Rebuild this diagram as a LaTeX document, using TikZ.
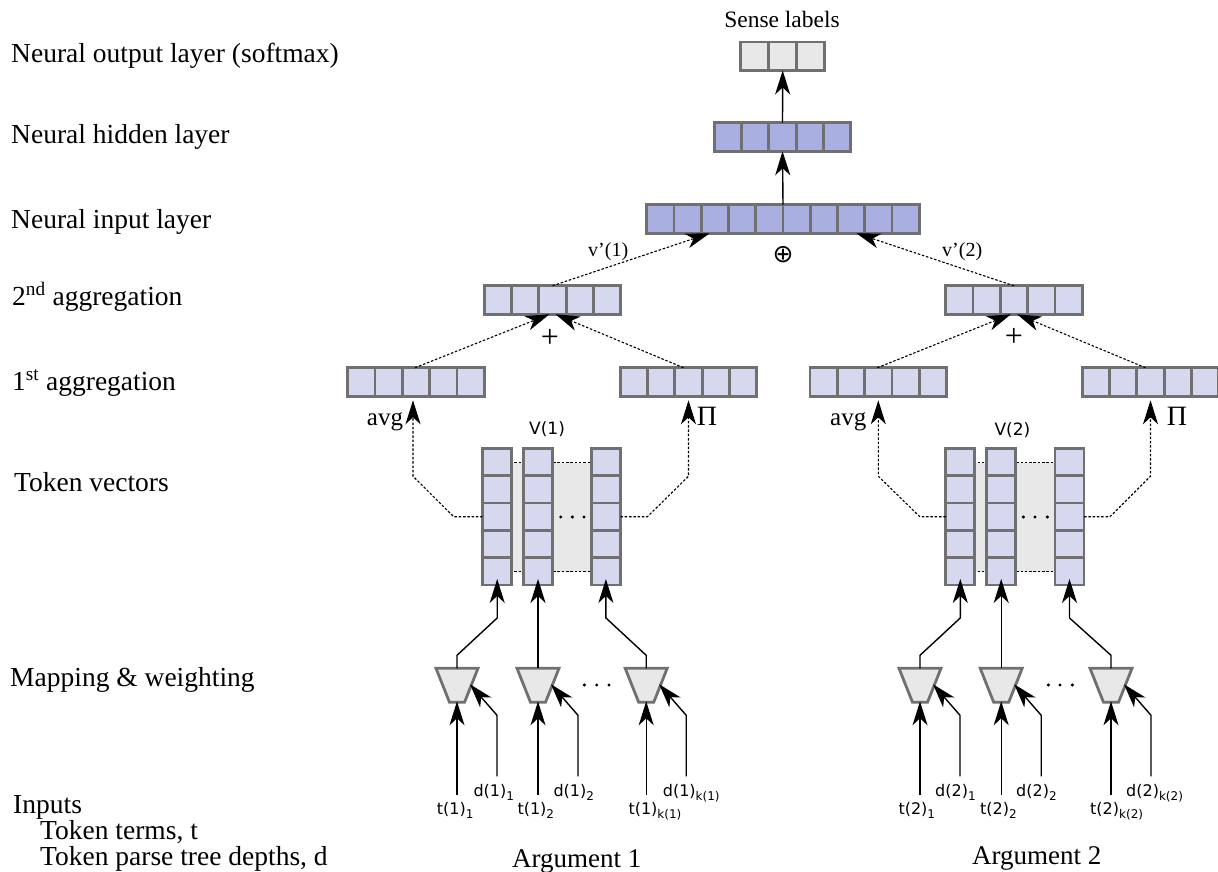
\documentclass[tikz,border=0pt]{standalone}
\usepackage{fontspec}
\setmainfont{Liberation Serif}
\newfontfamily\labfont{DejaVu Sans}
\usetikzlibrary{arrows.meta,calc,backgrounds}

\definecolor{cellborder}{HTML}{707070}
\definecolor{darkcell}{HTML}{A9AFE0}
\definecolor{lightcell}{HTML}{D6D8F0}
\definecolor{graycell}{HTML}{E8E8E8}

\tikzset{
  cellbox/.style={draw=cellborder, line width=2.8pt, inner sep=0pt, outer sep=0pt},
  cellline/.style={draw=cellborder, line width=2.8pt},
  tipend/.style={-{Stealth[length=24pt,width=15pt,inset=7pt]}},
  solidarrow/.style={tipend, line width=1.4pt},
  dasharrow/.style={tipend, line width=1.1pt, dash pattern=on 2.5pt off 1.8pt},
  dottedrule/.style={line width=1.1pt, dash pattern=on 2.5pt off 1.8pt},
  layerlabel/.style={anchor=base west, inner sep=0pt, font=\fontsize{27.5}{31}\selectfont},
  arglabel/.style={anchor=base west, inner sep=0pt, font=\fontsize{27}{31}\selectfont},
  oplabel/.style={anchor=base west, inner sep=0pt, font=\fontsize{25}{29}\selectfont},
  veclabel/.style={anchor=base west, inner sep=0pt, font=\fontsize{20}{24}\selectfont},
  inlabel/.style={anchor=base west, inner sep=0pt, font=\labfont\fontsize{16}{18}\selectfont},
  mapbox/.style={minimum width=42pt, minimum height=34pt, inner sep=0pt, outer sep=0pt},
}

% row of cells: name, x, y, count, cell width, fill
\newcommand{\hcells}[6]{%
  \node[cellbox, fill=#6, minimum width={#4*#5pt}, minimum height=28.5pt] (#1) at (#2,#3) {};
  \pgfmathtruncatemacro{\lastk}{#4-1}%
  \foreach \k in {1,...,\lastk}
    \draw[cellline] ($(#1.north west)+(\k*#5,0)$) -- ($(#1.south west)+(\k*#5,0)$);
}
% column of five token cells: name, x, y
\newcommand{\vcells}[3]{%
  \node[cellbox, fill=lightcell, minimum width=29pt, minimum height=136.5pt] (#1) at (#2,#3) {};
  \foreach \k in {1,...,4}
    \draw[cellline] ($(#1.north west)+(0,\k*27.3)$) -- ($(#1.north east)+(0,\k*27.3)$);
}
% mapping unit with its two inputs: name, x, y
\newcommand{\mapper}[3]{%
  \node[mapbox] (#1) at (#2,#3) {};
  \draw[cellline, fill=graycell, line join=miter] (#1.north west) -- (#1.north east)
    -- ($(#1.south east)+(-13.5,0)$) -- ($(#1.south west)+(13.5,0)$) -- cycle;
  \draw[solidarrow] ($(#1.south)+(0,93)$) -- ($(#1.south)+(0,-1)$);
  \draw[solidarrow] ($(#1.south)+(40,74)$) -- ($(#1.south)+(40,13)$) -- ($(#1.center)+(13,-1)$);
}
\newcommand{\lsub}[1]{\raisebox{-4pt}{\fontsize{12}{12}\selectfont #1}}

\begin{document}
\begin{tikzpicture}[x=1pt,y=-1pt]
\useasboundingbox (0,0) rectangle (1218,872);

% layer names
\node[layerlabel] (lout) at (11,63) {Neural output layer (softmax)};
\node[layerlabel] (lhid) at (11,143) {Neural hidden layer};
\node[layerlabel] (linp) at (11,228) {Neural input layer};
\node[layerlabel] (lag2) at (12,305) {2\textsuperscript{nd} aggregation};
\node[layerlabel] (lag1) at (12,390) {1\textsuperscript{st} aggregation};
\node[layerlabel] (ltok) at (14,491) {Token vectors};
\node[layerlabel] (lmap) at (10,686) {Mapping \& weighting};
\node[layerlabel] (lin)  at (13,813) {Inputs};
\node[layerlabel] (lint) at (40,839) {Token terms, t};
\node[layerlabel] (lind) at (40,865) {Token parse tree depths, d};

% network layers
\node[anchor=base, inner sep=0pt, font=\fontsize{23.5}{28}\selectfont] (sense) at (782,28) {Sense labels};
\hcells{out}{782.7}{56.2}{3}{28}{graycell}
\hcells{hid}{782.5}{137}{5}{27.3}{darkcell}
\hcells{inp}{783}{219}{10}{27.26}{darkcell}
\draw[solidarrow] (hid.north) -- (out.south);
\draw[solidarrow] (inp.north) -- (hid.south);
\node[inner sep=0pt, font=\labfont\fontsize{25}{25}\selectfont] (oplus) at (783,255) {⊕};

% aggregations
\hcells{agg2L}{552.5}{300}{5}{27.3}{lightcell}
\hcells{agg2R}{1014}{300}{5}{27.3}{lightcell}
\hcells{agg1LL}{416}{382}{5}{27.3}{lightcell}
\hcells{agg1LR}{688.5}{382}{5}{27.3}{lightcell}
\hcells{agg1RL}{878.3}{382}{5}{27.3}{lightcell}
\hcells{agg1RR}{1150.5}{382}{5}{27.3}{lightcell}

\node[veclabel] (vp1) at (588,256.5) {v'(1)};
\node[veclabel] (vp2) at (942,256.5) {v'(2)};
\draw[dasharrow] (agg2L.north) -- ($(inp.south west)+(63,0)$);
\draw[dasharrow] (agg2R.north) -- ($(inp.south east)+(-63,0)$);

\node[inner sep=0pt, font=\fontsize{32}{32}\selectfont] (plusL) at (550,338) {+};
\node[inner sep=0pt, font=\fontsize{32}{32}\selectfont] (plusR) at (1014,337) {+};
\draw[dasharrow] ($(agg1LL.north)+(-1,0)$) -- ($(agg2L.south)+(-3,0)$);
\draw[dasharrow] ($(agg1LR.north)+(-5,0)$) -- ($(agg2L.south)+(3,0)$);
\draw[dasharrow] ($(agg1RL.north)+(-1,0)$) -- ($(agg2R.south)+(-3,0)$);
\draw[dasharrow] ($(agg1RR.north)+(-5,0)$) -- ($(agg2R.south)+(3,0)$);

\node[oplabel] (avgL) at (366.7,425) {avg};
\node[oplabel, font=\fontsize{28}{30}\selectfont] (piL)  at (696.7,425) {Π};
\node[oplabel] (avgR) at (830,425) {avg};
\node[oplabel, font=\fontsize{28}{30}\selectfont] (piR)  at (1166.7,425) {Π};
\node[inlabel, font=\labfont\fontsize{17}{20}\selectfont] (V1) at (529,434.3) {V(1)};
\node[inlabel, font=\labfont\fontsize{17}{20}\selectfont] (V2) at (994.3,435) {V(2)};

% token vectors
\vcells{colL1}{497.2}{516.7}
\vcells{colL2}{538}{516.7}
\vcells{colL3}{605.9}{516.7}
\vcells{colR1}{960.3}{516.7}
\vcells{colR2}{1001.2}{516.7}
\vcells{colR3}{1069.5}{516.7}
\begin{scope}[on background layer]
  \fill[graycell] (colL1.center |- 0,462.7) rectangle (colL3.center |- 0,571.7);
  \draw[dottedrule] (colL1.center |- 0,462.7) -- (colL3.center |- 0,462.7);
  \draw[dottedrule] (colL1.center |- 0,571.7) -- (colL3.center |- 0,571.7);
  \fill[graycell] (colR1.center |- 0,462.7) rectangle (colR3.center |- 0,571.7);
  \draw[dottedrule] (colR1.center |- 0,462.7) -- (colR3.center |- 0,462.7);
  \draw[dottedrule] (colR1.center |- 0,571.7) -- (colR3.center |- 0,571.7);
\end{scope}
\foreach \dx in {560.7,572.3,584} \fill (\dx,517) circle (1.7);
\foreach \dx in {1023.3,1035,1047.3} \fill (\dx,517) circle (1.7);

\draw[dasharrow] (colL1.west) -- ++(-29,0) -- ($(agg1LL.south)+(-3,80)$) -- ($(agg1LL.south)+(-3,4)$);
\draw[dasharrow] (colL3.east) -- ++(27,0) -- ($(agg1LR.south)+(0,80)$) -- ($(agg1LR.south)+(0,4)$);
\draw[dasharrow] (colR1.west) -- ++(-26,0) -- ($(agg1RL.south)+(0,80)$) -- ($(agg1RL.south)+(0,4)$);
\draw[dasharrow] (colR3.east) -- ++(26,0) -- ($(agg1RR.south)+(0,80)$) -- ($(agg1RR.south)+(0,4)$);

% mapping and weighting units
\mapper{mL1}{457}{685.3}
\mapper{mL2}{538}{685.3}
\mapper{mL3}{646.2}{685.3}
\mapper{mR1}{920}{685.3}
\mapper{mR2}{1001.2}{685.3}
\mapper{mR3}{1111}{685.3}
\foreach \dx in {584.3,596.7,609} \fill (\dx,685) circle (1.7);
\foreach \dx in {1048.3,1060,1072.3} \fill (\dx,685) circle (1.7);

\draw[solidarrow] (mL1.north) -- ++(0,-13) -- ($(colL1.south)+(0,33)$) -- ($(colL1.south)+(0,-6)$);
\draw[solidarrow] (mL2.north) -- ($(colL2.south)+(0,-6)$);
\draw[solidarrow] (mL3.north) -- ++(0,-13) -- ($(colL3.south)+(0,33)$) -- ($(colL3.south)+(0,-6)$);
\draw[solidarrow] (mR1.north) -- ++(0,-13) -- ($(colR1.south)+(0,33)$) -- ($(colR1.south)+(0,-6)$);
\draw[solidarrow] (mR2.north) -- ($(colR2.south)+(0,-6)$);
\draw[solidarrow] (mR3.north) -- ++(0,-13) -- ($(colR3.south)+(0,33)$) -- ($(colR3.south)+(0,-6)$);

% input labels
\node[inlabel] (t11) at (436.7,814) {t(1)\lsub{1}};
\node[inlabel] (d11) at (473.3,796.7) {d(1)\lsub{1}};
\node[inlabel] (t12) at (517.3,814) {t(1)\lsub{2}};
\node[inlabel] (d12) at (553.3,796.7) {d(1)\lsub{2}};
\node[inlabel] (t1k) at (628.3,814) {t(1)\lsub{k(1)}};
\node[inlabel] (d1k) at (662.7,796.7) {d(1)\lsub{k(1)}};
\node[inlabel] (t21) at (898.3,814) {t(2)\lsub{1}};
\node[inlabel] (d21) at (935,796.7) {d(2)\lsub{1}};
\node[inlabel] (t22) at (980,814) {t(2)\lsub{2}};
\node[inlabel] (d22) at (1016,796.7) {d(2)\lsub{2}};
\node[inlabel] (t2k) at (1090,814) {t(2)\lsub{k(2)}};
\node[inlabel] (d2k) at (1126,796.7) {d(2)\lsub{k(2)}};

\node[arglabel] (arg1) at (512,867) {Argument 1};
\node[arglabel] (arg2) at (972,864) {Argument 2};
\end{tikzpicture}
\end{document}
